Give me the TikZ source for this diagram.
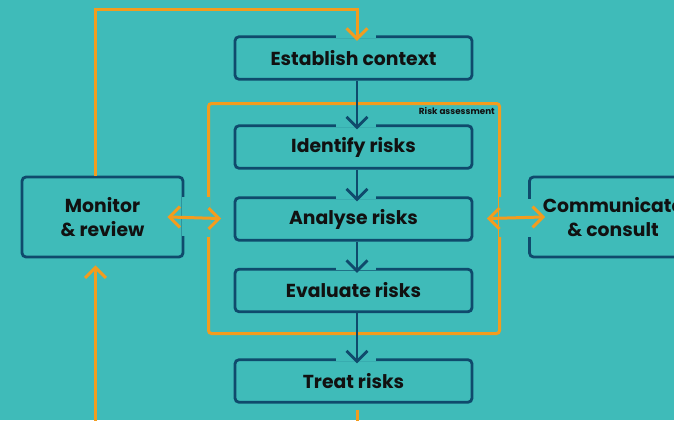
\documentclass[tikz,border=0pt]{standalone}
\usepackage{fontspec}
\setmainfont{Poppins}
\definecolor{bg}{HTML}{3FBBB9}
\definecolor{navy}{HTML}{0F4A6C}
\definecolor{orng}{HTML}{F39C1E}
\definecolor{ink}{HTML}{111111}
\begin{document}
\begin{tikzpicture}[x=1pt,y=-1pt,
  box/.style={draw=navy, line width=2.8pt, rounded corners=4pt, text=ink, align=center, inner sep=0pt,
    font=\bfseries\fontsize{18.8}{24}\selectfont},
  stepbox/.style={box, minimum width=237pt, minimum height=42.5pt},
  sidebox/.style={box, minimum width=161pt, minimum height=80pt},
  vhead/.pic={\draw[pic actions] (-10.5,-10.5) -- (0,0) -- (10.5,-10.5);},
  darr/.style={draw=navy, line width=2.8pt},
  oline/.style={draw=orng, line width=3pt},
  gapline/.style={draw=bg, line width=5pt}]
\useasboundingbox (0,0) rectangle (674,420);
\fill[bg] (0,0) rectangle (674,420);
\clip (0,0) rectangle (674,420);

% risk assessment frame
\node[draw=orng, line width=3pt, rounded corners=3pt, minimum width=291pt, minimum height=230pt, inner sep=0pt] (ra) at (354,218.5) {};
\node[anchor=north east, inner sep=0pt, text=ink, font=\bfseries\fontsize{8.8}{10}\selectfont] (ralabel) at ([xshift=-6pt,yshift=-5pt]ra.north east) {Risk assessment};

% boxes
\node[stepbox] (est) at (353.5,58) {Establish context};
\node[stepbox] (idf) at (353.5,147) {Identify risks};
\node[stepbox] (ana) at (353.5,219) {Analyse risks};
\node[stepbox] (eva) at (353.5,290.5) {Evaluate risks};
\node[stepbox] (trt) at (353.5,381) {Treat risks};
\node[sidebox] (mon) at (102.5,217) {Monitor\\\& review};
\node[sidebox, minimum width=167pt] (com) at (613,217) {Communicate\\\& consult};

% gaps in borders
\foreach \b in {est,idf,ana,eva,trt}{
  \draw[gapline] ([xshift=-18pt]\b.north) -- ([xshift=22pt]\b.north);
}
\draw[gapline] ([yshift=20pt]mon.east) -- ([yshift=-19pt]mon.east);
\draw[gapline] ([yshift=18pt]com.west) -- ([yshift=-20pt]com.west);
\draw[gapline] ([yshift=22pt]ra.west) -- ([yshift=-18pt]ra.west);
\draw[gapline] ([yshift=22pt]ra.east) -- ([yshift=-18pt]ra.east);

% dark flow arrows
\foreach \a/\b in {est/idf, idf/ana, ana/eva, eva/trt}{
  \coordinate (t\b) at ([xshift=3.5pt,yshift=-3pt]\b.north);
  \draw[darr] ([xshift=3.5pt]\a.south) -- (t\b);
  \pic[darr] at (t\b) {vhead};
}

% orange loops
\coordinate (topturn) at (95.5,10);
\coordinate (testtip) at ([xshift=3.5pt,yshift=-3.5pt]est.north);
\draw[oline] ([xshift=-7pt]mon.north) -- (topturn) -| (testtip);
\pic[oline] at (testtip) {vhead};

\coordinate (botleft) at (95.5,425);
\coordinate (montip) at ([xshift=-7pt,yshift=-9pt]mon.south);
\draw[oline] (botleft) -- (montip);
\pic[oline, rotate=180] at (montip) {vhead};

\coordinate (botmid) at (357,425);
\draw[oline] ([xshift=3.5pt,yshift=-6pt]trt.south) -- (botmid);

% double arrows
\coordinate (l1) at ([xshift=-15pt]mon.east);
\coordinate (l2) at ([xshift=12pt]ra.west);
\draw[oline] (l1) -- (l2);
\pic[oline, rotate=-90] at (l1) {vhead};
\pic[oline, rotate=90] at (l2) {vhead};
\coordinate (r1) at ([xshift=-12pt]ra.east);
\coordinate (r2) at ([xshift=15pt]com.west);
\draw[oline] (r1) -- (r2);
\pic[oline, rotate=-90] at (r1) {vhead};
\pic[oline, rotate=90] at (r2) {vhead};
\end{tikzpicture}
\end{document}
